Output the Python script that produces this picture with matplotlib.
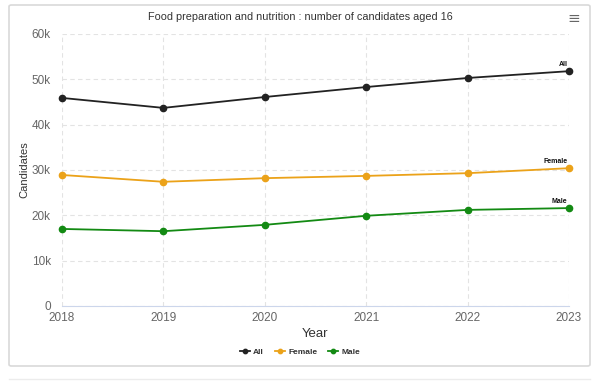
import matplotlib
matplotlib.use('Agg')
import matplotlib.pyplot as plt
from matplotlib.patches import FancyBboxPatch
from matplotlib.ticker import FuncFormatter

plt.rcParams['font.family'] = ['Liberation Sans', 'DejaVu Sans']

years = [2018, 2019, 2020, 2021, 2022, 2023]
all_vals = [45900, 43700, 46100, 48300, 50300, 51800]
female_vals = [28900, 27400, 28200, 28700, 29300, 30400]
male_vals = [17000, 16500, 17900, 19900, 21200, 21600]

series = [('All', all_vals, '#222222'),
          ('Female', female_vals, '#eba219'),
          ('Male', male_vals, '#138a13')]

fig = plt.figure(figsize=(6, 3.82), dpi=100)
fig.patch.set_facecolor('white')

# card border
card = FancyBboxPatch((9 / 600, 1 - 366 / 382), 581 / 600, 361 / 382,
                      boxstyle='round,pad=0,rounding_size=0.004',
                      transform=fig.transFigure, facecolor='white',
                      edgecolor='#d9d9d9', linewidth=1.2, zorder=-10)
fig.patches.append(card)
fig.add_artist(plt.Line2D([9 / 600, 590 / 600], [1 - 379 / 382] * 2,
                          transform=fig.transFigure, color='#ececec', lw=1, zorder=-10))

ax = fig.add_axes([62 / 600, 1 - 306 / 382, 507 / 600, 272 / 382])
ax.set_facecolor('none')

for name, vals, color in series:
    ax.plot(years, vals, color=color, lw=1.3, marker='o', markersize=4.5,
            label=name, zorder=3, clip_on=False)
    ax.annotate(name, (years[-1], vals[-1]), xytext=(-1, 2),
                textcoords='offset points', ha='right', va='bottom',
                fontsize=5, fontweight='bold', color='#111111')

ax.set_xlim(2018, 2023)
ax.set_ylim(0, 60000)
ax.set_xticks(years)
ax.set_yticks(range(0, 60001, 10000))
ax.yaxis.set_major_formatter(FuncFormatter(lambda v, p: '0' if v == 0 else f'{int(v / 1000)}k'))
ax.grid(True, color='#e3e3e3', linestyle=(0, (4, 3)), lw=0.8)
ax.set_axisbelow(True)
for s in ['top', 'right', 'left']:
    ax.spines[s].set_visible(False)
ax.spines['bottom'].set_color('#ccd6eb')
ax.tick_params(axis='both', length=0, labelsize=8.5, colors='#666666', pad=4)
ax.tick_params(axis='y', pad=8)
ax.set_xlabel('Year', fontsize=9.5, color='#333333', labelpad=3)
ax.set_ylabel('Candidates', fontsize=8, color='#333333', labelpad=2)

fig.text(0.5, 1 - 17 / 382, 'Food preparation and nutrition : number of candidates aged 16',
         ha='center', va='center', fontsize=7.8, color='#333333')
fig.text(574 / 600, 1 - 19 / 382, '≡', ha='center', va='center', fontsize=11,
         color='#666666', family='DejaVu Sans')

leg = ax.legend(loc='center', bbox_to_anchor=(0.5, 1 - 352 / 382),
                bbox_transform=fig.transFigure, ncol=3, frameon=False,
                fontsize=6, markerscale=0.7, handlelength=1.2,
                columnspacing=1.3, handletextpad=0.4)
for t in leg.get_texts():
    t.set_fontweight('bold')
    t.set_color('#333333')

fig.savefig('out.png', dpi=100)
